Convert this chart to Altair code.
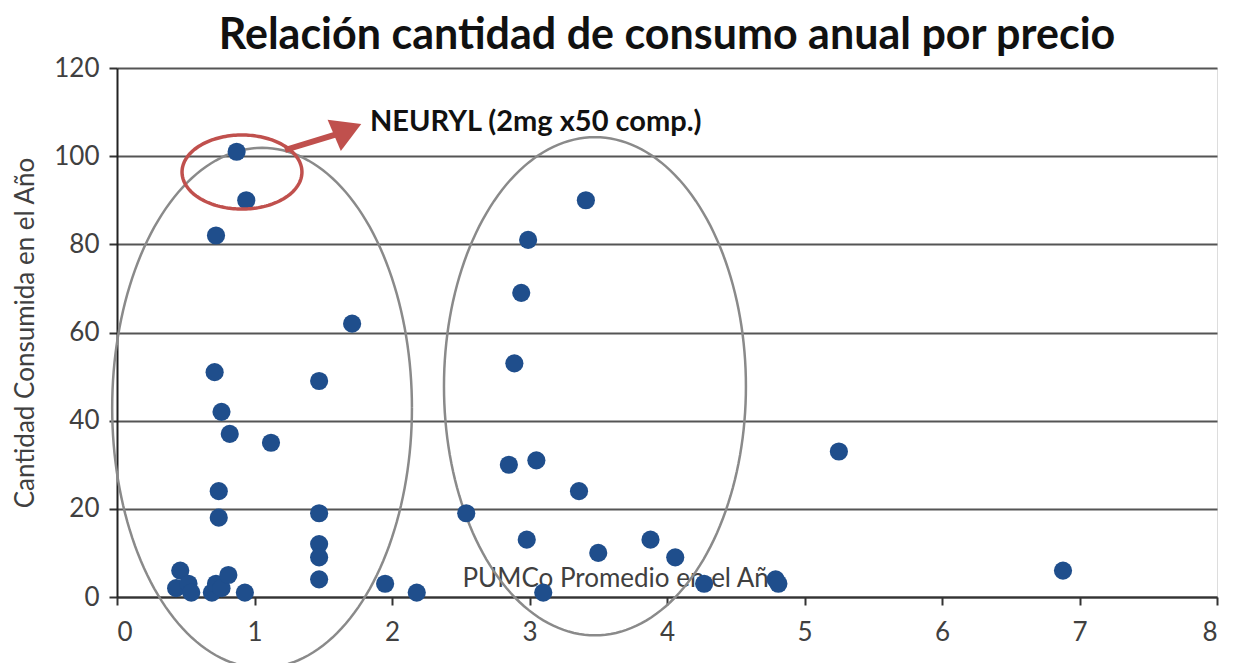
import altair as alt
import pandas as pd
import numpy as np

# Data
precio = [0.87, 0.94, 0.72, 1.71, 0.71, 1.47, 0.76, 0.82, 1.12, 0.74, 0.74,
          1.47, 1.47, 1.47, 1.47, 0.46, 0.43, 0.52, 0.54, 0.69, 0.72, 0.76,
          0.81, 0.93, 1.95, 2.18, 2.54, 2.85, 2.89, 2.94, 2.99, 3.41, 3.05,
          2.98, 3.10, 3.36, 3.50, 3.88, 4.06, 4.27, 4.79, 4.81, 5.25, 6.88]
cantidad = [101, 90, 82, 62, 51, 49, 42, 37, 35, 24, 18,
            19, 12, 9, 4, 6, 2, 3, 1, 1, 3, 2,
            5, 1, 3, 1, 19, 30, 53, 69, 81, 90, 31,
            13, 1, 24, 10, 13, 9, 3, 4, 3, 33, 6]

# annotation ellipses: centre x, centre y, radius x, radius y (data units)
ell_names = ["izq", "der", "rojo"]
ell_cx = [1.055, 3.476, 0.909]
ell_cy = [42.9, 47.8, 96.4]
ell_rx = [1.09, 1.098, 0.436]
ell_ry = [59.0, 56.5, 8.4]

arrow_x = [1.222, 1.60]
arrow_y = [101.4, 105.0]
arrow_head = (1.678, 106.0)

title = "Relación cantidad de consumo anual por precio"
x_title = "PUMCo Promedio en el Año"
y_title = "Cantidad Consumida en el Año"
label_neuryl = "NEURYL (2mg x50 comp.)"

FONT = "Lato"
BLUE = "#1f4e8c"
RED = "#c0504d"

df = pd.DataFrame({"precio": precio, "cantidad": cantidad})

t = np.linspace(0, 2 * np.pi, 181)
rows = []
for n, cx, cy, rx, ry in zip(ell_names, ell_cx, ell_cy, ell_rx, ell_ry):
    for i, a in enumerate(t):
        rows.append({"e": n, "i": i, "x": cx + rx * np.cos(a), "y": cy + ry * np.sin(a)})
ell = pd.DataFrame(rows)

xs = alt.Scale(domain=[0, 8], nice=False)
ys = alt.Scale(domain=[0, 120], nice=False)

base_x = alt.X("precio:Q", scale=xs,
               axis=alt.Axis(values=list(range(0, 9)), format="d", title=x_title, grid=False,
                             titleX=345, titleY=-19, titleAlign="left", titleBaseline="middle",
                             titleFont=FONT, titleFontSize=26, titleFontWeight="normal",
                             titleColor="#404040", labelFont=FONT, labelFontSize=26,
                             labelColor="#404040", labelPadding=14, tickSize=8,
                             tickColor="#333", tickWidth=2, domainColor="#333",
                             domainWidth=2))
base_y = alt.Y("cantidad:Q", scale=ys,
               axis=alt.Axis(values=list(range(0, 121, 20)), format="d", title=y_title,
                             titleX=-92, titleBaseline="middle", titleFont=FONT,
                             titleFontSize=26, titleFontWeight="normal", titleColor="#404040",
                             labelFont=FONT, labelFontSize=26, labelColor="#404040",
                             labelPadding=10, tickSize=8, tickColor="#333", tickWidth=2,
                             domainColor="#222", domainWidth=2, grid=True,
                             gridColor="#555", gridWidth=2))

points = alt.Chart(df).mark_circle(size=330, color=BLUE, opacity=1).encode(x=base_x, y=base_y)

ell_gray = alt.Chart(ell[ell.e != "rojo"]).mark_line(color="#8a8a8a", strokeWidth=2.5, clip=False).encode(
    x=alt.X("x:Q", scale=xs), y=alt.Y("y:Q", scale=ys), detail="e:N", order="i:Q")
ell_red = alt.Chart(ell[ell.e == "rojo"]).mark_line(color=RED, strokeWidth=3.5, clip=False).encode(
    x=alt.X("x:Q", scale=xs), y=alt.Y("y:Q", scale=ys), order="i:Q")

arrow = alt.Chart(pd.DataFrame({"x": arrow_x, "y": arrow_y})).mark_line(
    color=RED, strokeWidth=6).encode(x=alt.X("x:Q", scale=xs), y=alt.Y("y:Q", scale=ys))
head = alt.Chart(pd.DataFrame({"x": [arrow_head[0]], "y": [arrow_head[1]]})).mark_point(
    shape="triangle-up", filled=True, size=1150, angle=67, color=RED, opacity=1).encode(
    x=alt.X("x:Q", scale=xs), y=alt.Y("y:Q", scale=ys))

note = alt.Chart(pd.DataFrame({"x": [1.84], "y": [107.7], "t": [label_neuryl]})).mark_text(
    align="left", baseline="middle", font=FONT, fontSize=29, fontWeight="bold", color="#111").encode(
    x=alt.X("x:Q", scale=xs), y=alt.Y("y:Q", scale=ys), text="t:N")

chart = alt.layer(ell_gray, points, ell_red, arrow, head, note).properties(
    width=1100, height=529,
    title=alt.TitleParams(title, font=FONT, fontSize=43, fontWeight="bold", color="#111",
                          anchor="middle", offset=-3),
    autosize=alt.AutoSizeParams(type="none"),
    padding={"left": 109, "top": 60, "right": 12, "bottom": 66},
).configure_view(stroke="#cccccc", strokeWidth=1.5).configure(background="white")

chart.save("out.html", embed_options={"renderer": "svg", "actions": False})
